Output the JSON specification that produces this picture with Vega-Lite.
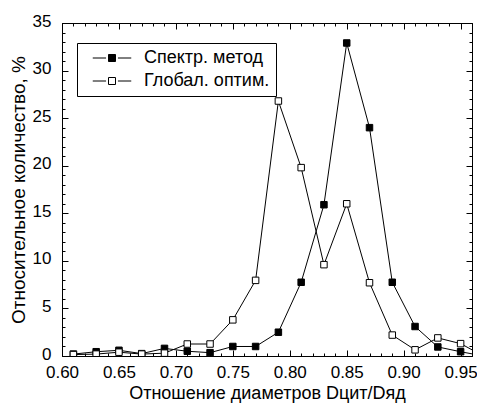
{
  "$schema": "https://vega.github.io/schema/vega-lite/v6.json",
  "width": 410,
  "height": 333,
  "autosize": "none",
  "padding": {"left": 62, "top": 23, "right": 5, "bottom": 52},
  "background": "white",
  "config": {
    "font": "Liberation Sans",
    "view": {"stroke": "black", "strokeWidth": 1},
    "axis": {"grid": false, "domain": false, "tickColor": "black", "labelColor": "black", "titleColor": "black", "labelFont": "Liberation Sans", "titleFont": "Liberation Sans", "titleFontWeight": "normal"}
  },
  "data": {
    "values": [
      {"x": 0.61, "v": 0.2, "s": "Спектр. метод"},
      {"x": 0.63, "v": 0.45, "s": "Спектр. метод"},
      {"x": 0.65, "v": 0.6, "s": "Спектр. метод"},
      {"x": 0.67, "v": 0.25, "s": "Спектр. метод"},
      {"x": 0.69, "v": 0.8, "s": "Спектр. метод"},
      {"x": 0.71, "v": 0.5, "s": "Спектр. метод"},
      {"x": 0.73, "v": 0.35, "s": "Спектр. метод"},
      {"x": 0.75, "v": 1.0, "s": "Спектр. метод"},
      {"x": 0.77, "v": 1.0, "s": "Спектр. метод"},
      {"x": 0.79, "v": 2.5, "s": "Спектр. метод"},
      {"x": 0.81, "v": 7.75, "s": "Спектр. метод"},
      {"x": 0.83, "v": 15.9, "s": "Спектр. метод"},
      {"x": 0.85, "v": 32.9, "s": "Спектр. метод"},
      {"x": 0.87, "v": 24.0, "s": "Спектр. метод"},
      {"x": 0.89, "v": 7.75, "s": "Спектр. метод"},
      {"x": 0.91, "v": 3.1, "s": "Спектр. метод"},
      {"x": 0.93, "v": 0.95, "s": "Спектр. метод"},
      {"x": 0.95, "v": 0.45, "s": "Спектр. метод"},
      {"x": 0.97, "v": 0.0, "s": "Спектр. метод"},
      {"x": 0.61, "v": 0.15, "s": "Глобал. оптим."},
      {"x": 0.63, "v": 0.2, "s": "Глобал. оптим."},
      {"x": 0.65, "v": 0.4, "s": "Глобал. оптим."},
      {"x": 0.67, "v": 0.2, "s": "Глобал. оптим."},
      {"x": 0.69, "v": 0.3, "s": "Глобал. оптим."},
      {"x": 0.71, "v": 1.26, "s": "Глобал. оптим."},
      {"x": 0.73, "v": 1.26, "s": "Глобал. оптим."},
      {"x": 0.75, "v": 3.8, "s": "Глобал. оптим."},
      {"x": 0.77, "v": 7.95, "s": "Глобал. оптим."},
      {"x": 0.79, "v": 26.8, "s": "Глобал. оптим."},
      {"x": 0.81, "v": 19.8, "s": "Глобал. оптим."},
      {"x": 0.83, "v": 9.6, "s": "Глобал. оптим."},
      {"x": 0.85, "v": 16.0, "s": "Глобал. оптим."},
      {"x": 0.87, "v": 7.7, "s": "Глобал. оптим."},
      {"x": 0.89, "v": 2.2, "s": "Глобал. оптим."},
      {"x": 0.91, "v": 0.65, "s": "Глобал. оптим."},
      {"x": 0.93, "v": 1.9, "s": "Глобал. оптим."},
      {"x": 0.95, "v": 1.3, "s": "Глобал. оптим."},
      {"x": 0.97, "v": 0.0, "s": "Глобал. оптим."}
    ]
  },
  "layer": [
    {
      "mark": {"type": "line", "color": "black", "strokeWidth": 1, "clip": true},
      "encoding": {
        "x": {"field": "x", "type": "quantitative", "scale": {"domain": [0.6, 0.96], "nice": false, "zero": false},
          "axis": {"orient": "bottom", "values": [0.6, 0.65, 0.7, 0.75, 0.8, 0.85, 0.9, 0.95], "format": ".2f", "tickSize": -6, "labelPadding": 14, "labelFontSize": 17, "labelFlush": false, "title": "Отношение диаметров Dцит/Dяд", "titleFontSize": 18, "titlePadding": 4}},
        "y": {"field": "v", "type": "quantitative", "scale": {"domain": [0, 35], "nice": false},
          "axis": {"orient": "left", "values": [0, 5, 10, 15, 20, 25, 30, 35], "tickSize": -6, "labelPadding": 17, "labelOffset": -2, "labelFontSize": 17, "labelFlush": false, "title": "Относительное количество, %", "titleFontSize": 19, "titlePadding": 4}},
        "detail": {"field": "s", "type": "nominal"}
      }
    },
    {
      "mark": {"type": "point", "shape": "square", "filled": true, "stroke": "black", "strokeWidth": 1, "size": 42, "opacity": 1, "clip": true},
      "encoding": {
        "x": {"field": "x", "type": "quantitative",
          "axis": {"orient": "bottom", "values": [0.6, 0.61, 0.62, 0.63, 0.64, 0.65, 0.66, 0.67, 0.68, 0.69, 0.7, 0.71, 0.72, 0.73, 0.74, 0.75, 0.76, 0.77, 0.78, 0.79, 0.8, 0.81, 0.82, 0.83, 0.84, 0.85, 0.86, 0.87, 0.88, 0.89, 0.9, 0.91, 0.92, 0.93, 0.94, 0.95, 0.96], "tickSize": -3, "labels": false, "title": null}},
        "y": {"field": "v", "type": "quantitative",
          "axis": {"orient": "left", "values": [0, 1, 2, 3, 4, 5, 6, 7, 8, 9, 10, 11, 12, 13, 14, 15, 16, 17, 18, 19, 20, 21, 22, 23, 24, 25, 26, 27, 28, 29, 30, 31, 32, 33, 34, 35], "tickSize": -3, "labels": false, "title": null}},
        "fill": {"field": "s", "type": "nominal",
          "scale": {"domain": ["Спектр. метод", "Глобал. оптим."], "range": ["black", "white"]},
          "legend": {"orient": "none", "legendX": 15, "legendY": 20, "title": null, "strokeColor": "black", "fillColor": "white", "padding": 6,
            "labelFontSize": 18, "labelColor": "black", "labelFont": "Liberation Sans",
            "symbolType": "M-5.5,0H-1.7M1.7,0H5.5M-1,-1H1V1H-1Z", "symbolSize": 49, "symbolStrokeColor": "black", "symbolStrokeWidth": 1,
            "symbolOffset": 20, "labelOffset": 23, "rowPadding": 5}}
      }
    },
    {
      "mark": {"type": "point", "opacity": 0},
      "encoding": {
        "x": {"field": "x", "type": "quantitative",
          "axis": {"orient": "top", "values": [0.6, 0.65, 0.7, 0.75, 0.8, 0.85, 0.9, 0.95], "tickSize": -6, "labels": false, "title": null}},
        "y": {"field": "v", "type": "quantitative",
          "axis": {"orient": "right", "values": [0, 5, 10, 15, 20, 25, 30, 35], "tickSize": -6, "labels": false, "title": null}}
      }
    },
    {
      "mark": {"type": "point", "opacity": 0},
      "encoding": {
        "x": {"field": "x", "type": "quantitative",
          "axis": {"orient": "top", "values": [0.6, 0.61, 0.62, 0.63, 0.64, 0.65, 0.66, 0.67, 0.68, 0.69, 0.7, 0.71, 0.72, 0.73, 0.74, 0.75, 0.76, 0.77, 0.78, 0.79, 0.8, 0.81, 0.82, 0.83, 0.84, 0.85, 0.86, 0.87, 0.88, 0.89, 0.9, 0.91, 0.92, 0.93, 0.94, 0.95, 0.96], "tickSize": -3, "labels": false, "title": null}},
        "y": {"field": "v", "type": "quantitative",
          "axis": {"orient": "right", "values": [0, 1, 2, 3, 4, 5, 6, 7, 8, 9, 10, 11, 12, 13, 14, 15, 16, 17, 18, 19, 20, 21, 22, 23, 24, 25, 26, 27, 28, 29, 30, 31, 32, 33, 34, 35], "tickSize": -3, "labels": false, "title": null}}
      }
    }
  ],
  "resolve": {"axis": {"x": "independent", "y": "independent"}}
}
